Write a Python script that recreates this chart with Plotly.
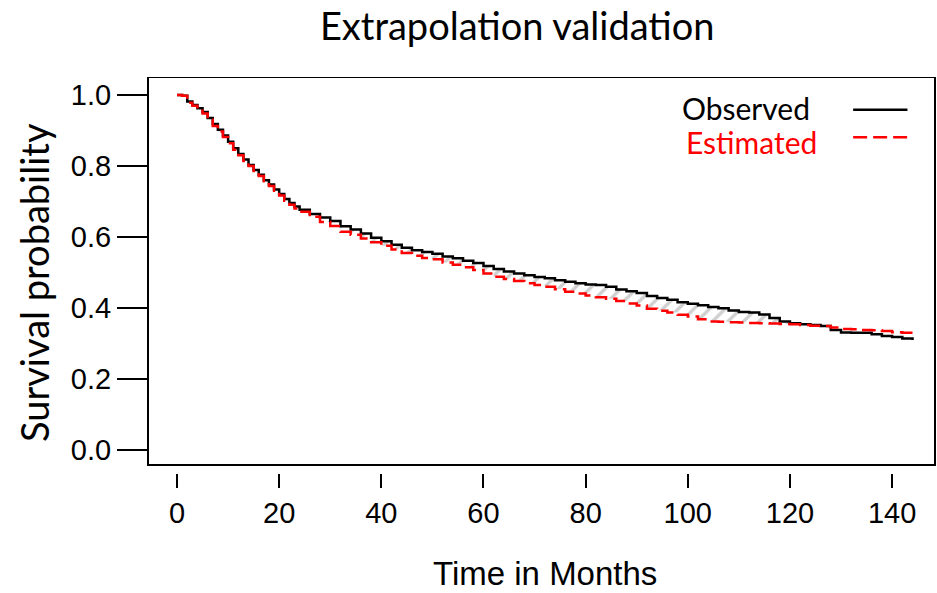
import numpy as np
import plotly.graph_objects as go

months = list(range(0, 25)) + list(range(26, 146, 2))
observed = [1.000, 0.998, 0.982, 0.972, 0.963, 0.952, 0.935, 0.918, 0.902, 0.886,
            0.868, 0.850, 0.834, 0.818, 0.803, 0.789, 0.775, 0.760, 0.748, 0.734,
            0.721, 0.707, 0.696, 0.686, 0.677,
            0.665, 0.655, 0.645, 0.630, 0.621, 0.610, 0.598,
            0.588, 0.578, 0.570, 0.563, 0.558, 0.553, 0.545, 0.540, 0.533, 0.527,
            0.518, 0.510, 0.503, 0.497, 0.492, 0.487, 0.484, 0.478, 0.474, 0.470,
            0.466, 0.465, 0.460, 0.452, 0.447, 0.442, 0.434, 0.428, 0.423, 0.416,
            0.412, 0.408, 0.403, 0.399, 0.393, 0.389, 0.387, 0.382, 0.372, 0.362,
            0.357, 0.354, 0.352, 0.349, 0.338, 0.331, 0.330, 0.330, 0.326, 0.321,
            0.318, 0.314, 0.310]
estimated = [1.000, 0.998, 0.978, 0.970, 0.960, 0.948, 0.930, 0.913, 0.897, 0.882,
             0.864, 0.846, 0.830, 0.814, 0.800, 0.786, 0.772, 0.757, 0.744, 0.730,
             0.717, 0.702, 0.691, 0.680, 0.671,
             0.657, 0.642, 0.631, 0.615, 0.606, 0.596, 0.585,
             0.575, 0.565, 0.555, 0.547, 0.541, 0.537, 0.528, 0.522, 0.515, 0.507,
             0.497, 0.488, 0.482, 0.476, 0.470, 0.465, 0.460, 0.453, 0.446, 0.441,
             0.435, 0.430, 0.426, 0.420, 0.413, 0.407, 0.398, 0.392, 0.387, 0.381,
             0.376, 0.368, 0.362, 0.361, 0.360, 0.359, 0.358, 0.357, 0.356, 0.355,
             0.354, 0.352, 0.350, 0.349, 0.345, 0.341, 0.340, 0.338, 0.337, 0.335,
             0.332, 0.330, 0.330]
x_ticks = [0, 20, 40, 60, 80, 100, 120, 140]
y_ticks = [0.0, 0.2, 0.4, 0.6, 0.8, 1.0]
y_tick_text = ["0.0", "0.2", "0.4", "0.6", "0.8", "1.0"]

obs = np.array(observed)
est = np.array(estimated)
upper = np.maximum(obs, est)

fig = go.Figure()
fig.add_trace(go.Scatter(x=months, y=est, mode="lines", line=dict(width=0, shape="hv"),
                         hoverinfo="skip", showlegend=False))
fig.add_trace(go.Scatter(x=months, y=upper, mode="lines", line=dict(width=0, shape="hv"),
                         fill="tonexty", fillcolor="rgba(0,0,0,0)",
                         fillpattern=dict(shape="/", fgcolor="#a0a0a0", bgcolor="rgba(0,0,0,0)",
                                          size=11, solidity=0.3),
                         hoverinfo="skip", showlegend=False))
fig.add_trace(go.Scatter(x=months, y=observed, mode="lines", name="Observed",
                         line=dict(color="black", width=2.5, shape="hv"), showlegend=False))
fig.add_trace(go.Scatter(x=months, y=estimated, mode="lines", name="Estimated",
                         line=dict(color="#ff0000", width=2.5, shape="hv", dash="14px,6px"),
                         showlegend=False))

# frame box
fig.add_shape(type="rect", xref="paper", yref="y", x0=0, x1=1, y0=-0.042, y1=1.0507,
              line=dict(color="black", width=2), fillcolor="rgba(0,0,0,0)", layer="above")

# legend drawn manually (text left, line sample right)
fig.add_annotation(xref="paper", yref="paper", x=0.676, y=0.922, text="Observed",
                   showarrow=False, xanchor="left", yanchor="middle",
                   font=dict(family="Lato", size=30, color="black"))
fig.add_annotation(xref="paper", yref="paper", x=0.681, y=0.836, text="Estimated",
                   showarrow=False, xanchor="left", yanchor="middle",
                   font=dict(family="Lato", size=30, color="#ff0000"))
fig.add_shape(type="line", xref="paper", yref="paper", x0=0.896, x1=0.965, y0=0.917, y1=0.917,
              line=dict(color="black", width=2.5))
fig.add_shape(type="line", xref="paper", yref="paper", x0=0.896, x1=0.965, y0=0.848, y1=0.848,
              line=dict(color="#ff0000", width=2.5, dash="14px,6px"))

# axis titles
fig.add_annotation(xref="paper", yref="paper", x=-0.145, y=0.482, text="Survival probability",
                   textangle=-90, showarrow=False, xanchor="center", yanchor="middle",
                   font=dict(family="Lato", size=38, color="black"))
fig.add_annotation(xref="paper", yref="paper", x=0.504, y=-0.255, text="Time in Months",
                   showarrow=False, xanchor="center", yanchor="middle",
                   font=dict(family="Liberation Sans", size=33, color="black"))

fig.update_layout(
    width=937, height=593,
    margin=dict(l=148, r=2, t=77, b=120),
    paper_bgcolor="white", plot_bgcolor="white",
    title=dict(text="Extrapolation validation", x=0.552, xanchor="center",
               y=0.955, yanchor="middle", font=dict(family="Lato", size=38, color="black")),
    xaxis=dict(range=[-5.68, 148.4], tickvals=x_ticks, ticks="outside", ticklen=14,
               tickwidth=2, tickcolor="black", showline=False, showgrid=False, zeroline=False,
               tickfont=dict(family="Liberation Sans", size=29, color="black")),
    yaxis=dict(range=[-0.0648, 1.0507], tickvals=y_ticks, ticktext=y_tick_text, ticks="outside",
               ticklen=30, tickwidth=2, tickcolor="black", showline=False, showgrid=False,
               zeroline=False,
               tickfont=dict(family="Liberation Sans, Arial", size=29, color="black")),
)

fig.write_html("out.html")
